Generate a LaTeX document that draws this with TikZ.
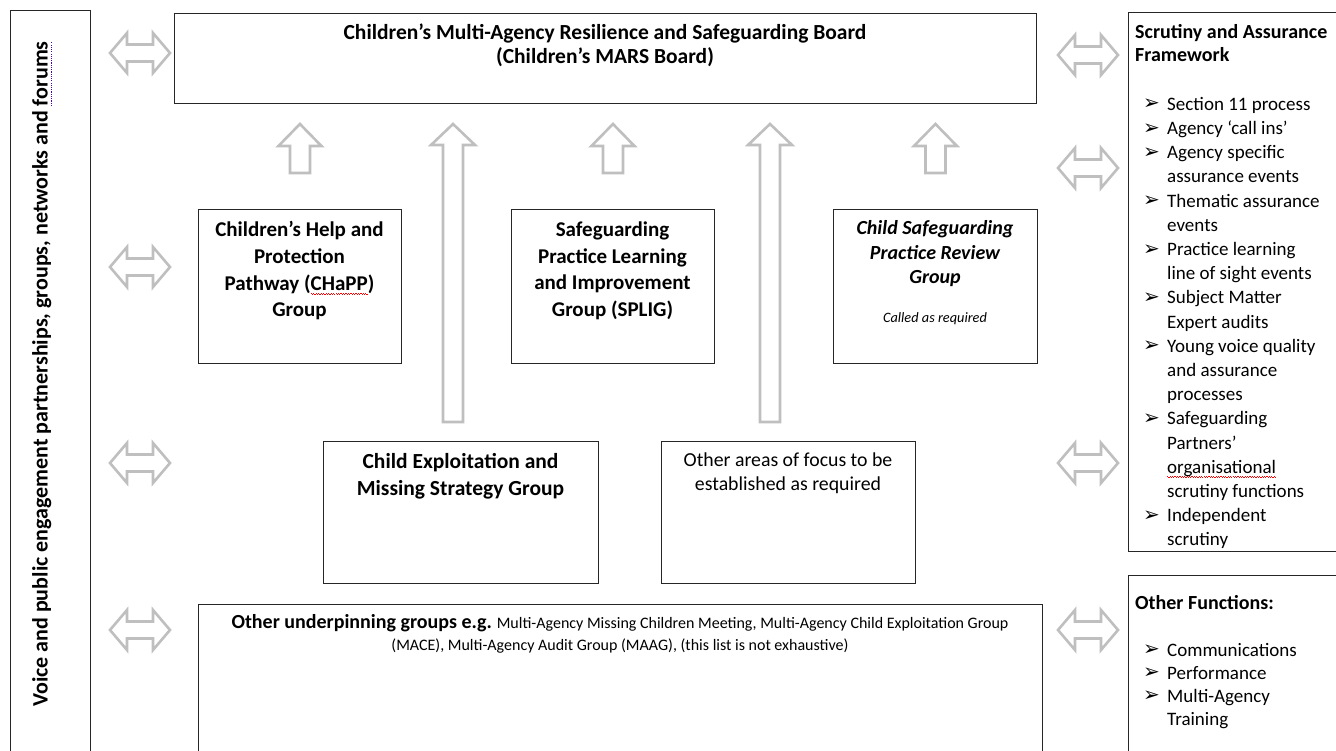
\documentclass[tikz,border=0pt]{standalone}
\usepackage{fontspec}
\setmainfont{Carlito}
\newfontfamily\dejavu{DejaVu Sans}
\usetikzlibrary{calc}
\newcommand\redwave[1]{\setbox0=\hbox{#1}\leavevmode\rlap{\lower4pt\hbox to\wd0{\color{red}\xleaders\hbox{\rule{1.2pt}{1pt}\rule[-1pt]{1.2pt}{1pt}}\hfil}}\box0}
\newcommand\bluedots[1]{\setbox0=\hbox{#1}\leavevmode\rlap{\lower4pt\hbox to\wd0{\color{violet!60!blue}\xleaders\hbox{\rule{1.1pt}{1.1pt}\kern1.1pt}\hfil}}\box0}
\newcommand\bul[1]{\makebox[24pt][l]{\raisebox{0.5pt}{\dejavu\fontsize{20}{20}\selectfont ➢}}#1}
\newcommand\cnt[1]{\hspace*{24pt}#1}
\tikzset{
  box/.style={draw=black!85, line width=0.9pt, inner sep=0pt, anchor=north west},
  arr/.style={draw=black!25, line width=2.6pt, line join=miter, fill=white},
  btxt/.style={font=\bfseries\fontsize{21}{26.6}\selectfont, align=center, anchor=north, inner sep=0pt},
  rtxt/.style={font=\fontsize{19.8}{23.8}\selectfont, align=center, anchor=north, inner sep=0pt},
  ltxt/.style={font=\fontsize{19}{24.2}\selectfont, align=left, anchor=north west, inner sep=0pt},
  dblarr/.pic={\path[arr] (-30,0) -- (-13,20) -- (-13,8.5) -- (13,8.5) -- (13,20) -- (30,0) -- (13,-20) -- (13,-8.5) -- (-13,-8.5) -- (-13,-20) -- cycle;},
  uparr/.pic={\path[arr] (0,0) -- (21.5,-22) -- (10,-22) -- (10,-49) -- (-10,-49) -- (-10,-22) -- (-21.5,-22) -- cycle;},
  tallarr/.pic={\path[arr] (0,0) -- (22,-21) -- (10,-21) -- (10,-298) -- (-10,-298) -- (-10,-21) -- (-22,-21) -- cycle;}
}
\begin{document}
\begin{tikzpicture}[x=1pt,y=1pt]
\useasboundingbox (0,0) rectangle (1336,-751);
\clip (0,0) rectangle (1336,-751);
\fill[white] (0,0) rectangle (1336,-751);

% boxes
\node[box, minimum width=80, minimum height=760] (left) at (10,-10) {};
\node[box, minimum width=862, minimum height=90] (mars) at (174,-13) {};
\node[box, minimum width=203, minimum height=154] (chapp) at (198,-209) {};
\node[box, minimum width=203, minimum height=154] (splig) at (511,-209) {};
\node[box, minimum width=204, minimum height=154] (cspr) at (833,-209) {};
\node[box, minimum width=275, minimum height=142] (ce) at (323,-441) {};
\node[box, minimum width=254, minimum height=142] (other) at (661,-441) {};
\node[box, minimum width=844, minimum height=170] (under) at (198,-604) {};
\node[box, minimum width=230, minimum height=539] (scrut) at (1128,-12) {};
\node[box, minimum width=230, minimum height=200] (func) at (1128,-575) {};

% texts
\node[rotate=90, font=\bfseries\fontsize{22}{26}\selectfont, inner sep=0pt] (vtext) at (42,-374)
  {Voice and public engagement partnerships, groups, networks and \bluedots{forums}};
\node[btxt, font=\bfseries\fontsize{21.5}{23.5}\selectfont] (marst) at (605,-24)
  {Children’s Multi-Agency Resilience and Safeguarding Board\\(Children’s MARS Board)};
\node[btxt] (chappt) at (299.5,-221.5) {Children’s Help and\\Protection\\Pathway (\redwave{CHaPP})\\Group};
\node[btxt] (splgt) at (612.5,-221.5) {Safeguarding\\Practice Learning\\and Improvement\\Group (SPLIG)};
\node[btxt, font=\bfseries\itshape\fontsize{20}{24.5}\selectfont] (csprt) at (935,-220.5) {Child Safeguarding\\Practice Review\\Group};
\node[font=\itshape\fontsize{14.3}{16}\selectfont, inner sep=0pt] (csprs) at (935,-319) {Called as required};
\node[btxt, font=\bfseries\fontsize{21.5}{26.7}\selectfont] (cet) at (460.5,-453.5) {Child Exploitation and\\Missing Strategy Group};
\node[rtxt] (othert) at (788,-452.5) {Other areas of focus to be\\established as required};
\node[btxt, font=\fontsize{16}{22}\selectfont] (undert) at (620,-614)
  {{\bfseries\fontsize{20}{22}\selectfont Other underpinning groups e.g.} Multi-Agency Missing Children Meeting, Multi-Agency Child Exploitation Group\\(MACE), Multi-Agency Audit Group (MAAG), (this list is not exhaustive)};

\node[btxt, align=left, anchor=north west, font=\bfseries\fontsize{20}{23}\selectfont] (scrt) at (1135,-24.5)
  {Scrutiny and Assurance\\Framework};
\node[ltxt] (scrl) at (1143,-97)
  {\bul{Section 11 process}\\
   \bul{Agency ‘call ins’}\\
   \bul{Agency specific}\\
   \cnt{assurance events}\\
   \bul{Thematic assurance}\\
   \cnt{events}\\
   \bul{Practice learning}\\
   \cnt{line of sight events}\\
   \bul{Subject Matter}\\
   \cnt{Expert audits}\\
   \bul{Young voice quality}\\
   \cnt{and assurance}\\
   \cnt{processes}\\
   \bul{Safeguarding}\\
   \cnt{Partners’}\\
   \cnt{\redwave{organisational}}\\
   \cnt{scrutiny functions}\\
   \bul{Independent}\\
   \cnt{scrutiny}};
\node[btxt, align=left, anchor=north west, font=\bfseries\fontsize{20}{23}\selectfont] (funct) at (1135,-595.5) {Other Functions:};
\node[ltxt, font=\fontsize{19}{23}\selectfont] (funcl) at (1143,-643)
  {\bul{Communications}\\
   \bul{Performance}\\
   \bul{Multi-Agency}\\
   \cnt{Training}};

% double arrows
\foreach \yy in {53,267,463,630} \pic at (140,-\yy) {dblarr};
\foreach \yy in {55,168,463,630} \pic at (1088,-\yy) {dblarr};

% small up arrows
\pic at (chapp.north |- 0,-124) {uparr};
\pic at (splig.north |- 0,-124) {uparr};
\pic at (cspr.north |- 0,-124) {uparr};

% tall up arrows
\pic at (453,-124) {tallarr};
\pic at (770,-124) {tallarr};
\end{tikzpicture}
\end{document}
